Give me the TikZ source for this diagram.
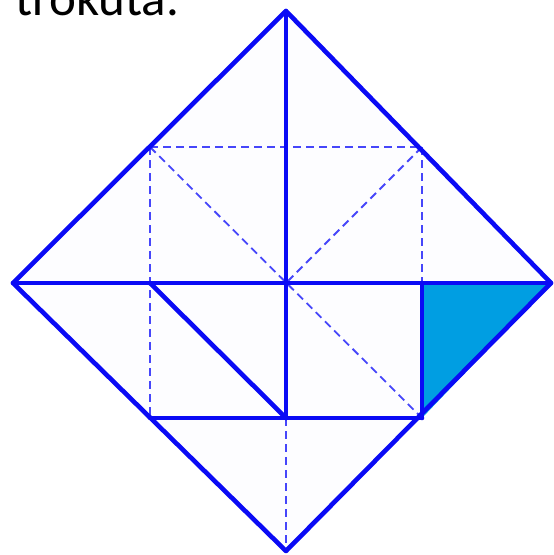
\documentclass[tikz,border=0pt]{standalone}
\usepackage{fontspec}
\setmainfont{Carlito}
\definecolor{lineblue}{RGB}{10,10,245}
\definecolor{dashblue}{RGB}{70,70,250}
\definecolor{fillblue}{RGB}{0,158,226}
\definecolor{paper}{RGB}{253,253,255}
\tikzset{
  solidline/.style={draw=lineblue,line width=4.6pt,line cap=round,line join=round},
  dashline/.style={draw=dashblue,line width=1.8pt,dash pattern=on 8pt off 5pt}
}
\begin{document}
\begin{tikzpicture}[x=1pt,y=-1pt]
\useasboundingbox (0,0) rectangle (554,555);
% corners
\coordinate (T) at (286,11);
\coordinate (L) at (13,283);
\coordinate (R) at (551,283);
\coordinate (B) at (286,551);
\coordinate (C) at (286,283);
\coordinate (q1) at (150,147);
\coordinate (q2) at (422,147);
\coordinate (q3) at (422,418);
\coordinate (q4) at (150,418);
\coordinate (mL) at (150,283);
\coordinate (mR) at (422,283);
\coordinate (mB) at (286,418);
\fill[paper] (T) -- (R) -- (B) -- (L) -- cycle;
\fill[fillblue] (mR) -- (R) -- (q3) -- cycle;
% dashed
\draw[dashline] (q1) -- (q2);
\draw[dashline] (q1) -- (q4);
\draw[dashline] (q2) -- (mR);
\draw[dashline] (q1) -- (q3);
\draw[dashline] (q2) -- (C);
\draw[dashline] (mB) -- (B);
% solid
\draw[solidline] (T) -- (mB);
\draw[solidline] (L) -- (R);
\draw[solidline] (mL) -- (mB);
\draw[solidline] (q4) -- (q3);
\draw[solidline] (mR) -- (q3);
\draw[solidline] (T) -- (R) -- (B) -- (L) -- cycle;
\node[anchor=base west,inner sep=0pt,font=\fontsize{51}{51}\selectfont] (txt) at (15,15) {trokuta.};
\end{tikzpicture}
\end{document}
